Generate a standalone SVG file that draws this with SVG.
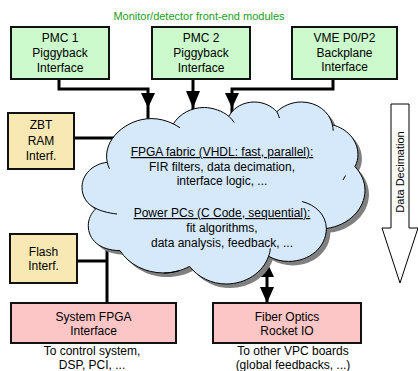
<svg xmlns="http://www.w3.org/2000/svg" width="418" height="371" viewBox="0 0 418 371">
<style>
text{font-family:"Liberation Sans",Arial,sans-serif;font-size:12px;fill:#000;text-anchor:middle}
.t11{font-size:11px}
.green rect{fill:#ccfacc;stroke:#111;stroke-width:2}
.yellow rect{fill:#f7e8b4;stroke:#111;stroke-width:2}
.pink rect{fill:#fdc6c6;stroke:#111;stroke-width:2}
.ln{fill:none;stroke:#000;stroke-width:3}
.ah{fill:#000}
.inner{fill:none;stroke:#000;stroke-width:1}
</style>
<defs>
<path id="cloudPath" d="M107.29,162.33 C102.05,139.83 126.55,118.60 151.05,118.60 C158.78,118.43 166.77,120.62 173.32,123.91 C179.61,113.71 191.27,107.48 204.37,107.48 C213.07,107.81 222.32,110.85 228.87,116.32 C233.59,107.31 243.55,102 254.29,102 C263.33,102 271.59,105.88 276.83,111.77 C282.85,105.88 291.89,102 301.33,102 C316.66,102 329.63,111.52 332.38,124.83 C347.18,128.54 357.93,140.59 357.93,154.41 C357.93,158.62 357.14,162.67 354.91,166.54 C361.20,173.28 365,181.63 365,190.14 C365,209.43 348.10,225.69 326.35,228.47 C326.35,246.93 309.58,261.42 288.62,261.42 C281.41,261.42 274.60,259.65 268.57,256.28 C263.07,272.54 245.64,284 226.12,284 C211.58,284 197.82,277.18 189.57,266.39 C181.84,270.52 172.80,272.96 163.76,272.96 C145.54,272.96 128.77,264.45 120.00,250.63 C99.03,250.30 88.29,239.34 88.29,225.52 C88.29,219.12 91.04,213.31 96.02,208.50 C86.98,204.46 82,196.46 82,187.27 C82,174.38 93.01,163.76 107.29,162.33 Z"/>
</defs>

<text class="t11" x="199" y="20" style="fill:#1a9e1a">Monitor/detector front-end modules</text>

<g id="connectors">
  <polyline class="ln" points="59,79 59,89 148,89 148,122"/>
  <polygon class="ah" points="141,93 155,93 148,108"/>
  <line class="ln" x1="193" y1="79" x2="193" y2="112"/>
  <polygon class="ah" points="186,91 200,91 193,108"/>
  <polyline class="ln" points="333,79 333,89 232,89 232,113"/>
  <polygon class="ah" points="225,93 239,93 232,108"/>
  <line class="ln" x1="74" y1="138" x2="116" y2="138"/>
  <polyline class="ln" points="77,261 107,261"/>
  <line class="ln" x1="107" y1="248" x2="107" y2="303"/>
  <line class="ln" x1="267" y1="258" x2="267" y2="303"/>
  <polygon class="ah" points="260,277 274,277 267,262"/>
  <polygon class="ah" points="260,287 274,287 267,303"/>
</g>

<g id="fpga-cloud">
  <use href="#cloudPath" transform="translate(4,4)" fill="#808080"/>
  <use href="#cloudPath" fill="#d6e9fb" stroke="#000" stroke-width="1"/>
  <path class="inner" d="M107.29,162.33 C107.55,164.44 108.73,166.8 109.38,168.73"/>
  <path class="inner" d="M173.32,123.91 C175.68,125.09 177.91,126.35 180,127.78"/>
  <path class="inner" d="M228.87,116.32 C230.97,118.26 232.8,120.37 234.24,122.64"/>
  <path class="inner" d="M276.83,111.77 C277.88,113.71 278.93,116.07 279.45,118.18"/>
  <path class="inner" d="M332.38,124.83 C332.9,126.77 333.17,128.8 333.17,130.73"/>
  <path class="inner" d="M345.5,175.5 C344.6,177 343.8,178.5 343,180"/>
  <path class="inner" d="M326.35,228.47 C326,215 316,205 302,201.5"/>
  <path class="inner" d="M268.57,256.28 C269.62,253.5 270.27,250.97 270.27,248.27"/>
  <path class="inner" d="M163.76,272.96 C169,272.96 174.5,272.12 179.9,270.35"/>
  <path class="inner" d="M96.02,208.5 C101,211 108,213 117,214"/>
  <text x="222" y="156" text-decoration="underline">FPGA fabric (VHDL: fast, parallel):</text>
  <text x="222" y="171">FIR filters, data decimation,</text>
  <text x="222" y="185">interface logic, ...</text>
  <text x="222" y="217" text-decoration="underline">Power PCs (C Code, sequential):</text>
  <text x="222" y="232">fit algorithms,</text>
  <text x="222" y="247">data analysis, feedback, ...</text>
</g>

<g id="pmc1" class="green">
  <rect x="11" y="27" width="98" height="52"/>
  <text x="60" y="42">PMC 1</text>
  <text x="60" y="57">Piggyback</text>
  <text x="60" y="72">Interface</text>
</g>
<g id="pmc2" class="green">
  <rect x="152" y="27" width="98" height="52"/>
  <text x="201" y="42">PMC 2</text>
  <text x="201" y="57">Piggyback</text>
  <text x="201" y="72">Interface</text>
</g>
<g id="vme" class="green">
  <rect x="292" y="27" width="105" height="52"/>
  <text x="344.5" y="42">VME P0/P2</text>
  <text x="344.5" y="57">Backplane</text>
  <text x="344.5" y="71">Interface</text>
</g>

<g id="zbt" class="yellow">
  <rect x="8" y="113" width="66" height="56"/>
  <text x="41" y="129">ZBT</text>
  <text x="41" y="145">RAM</text>
  <text x="41" y="160">Interf.</text>
</g>
<g id="flash" class="yellow">
  <rect x="10" y="234" width="67" height="49"/>
  <text x="43.5" y="256">Flash</text>
  <text x="43.5" y="270">Interf.</text>
</g>

<g id="sysfpga" class="pink">
  <rect x="11" y="303" width="165" height="40"/>
  <text x="93.5" y="321">System FPGA</text>
  <text x="93.5" y="335">Interface</text>
  <text x="92" y="354.5">To control system,</text>
  <text x="92" y="368.5">DSP, PCI, ...</text>
</g>
<g id="fiber" class="pink">
  <rect x="213" y="303" width="148" height="40"/>
  <text x="287" y="321">Fiber Optics</text>
  <text x="287" y="335">Rocket IO</text>
  <text x="293" y="354.5">To other VPC boards</text>
  <text x="293" y="368.5">(global feedbacks, ...)</text>
</g>

<g id="data-decimation">
  <polygon points="391,104 409,104 409,228 418,228 400,283 382,228 391,228" fill="#fff" stroke="#000" stroke-width="1"/>
  <text class="t11" transform="translate(404,172) rotate(-90)">Data Decimation</text>
</g>
</svg>
